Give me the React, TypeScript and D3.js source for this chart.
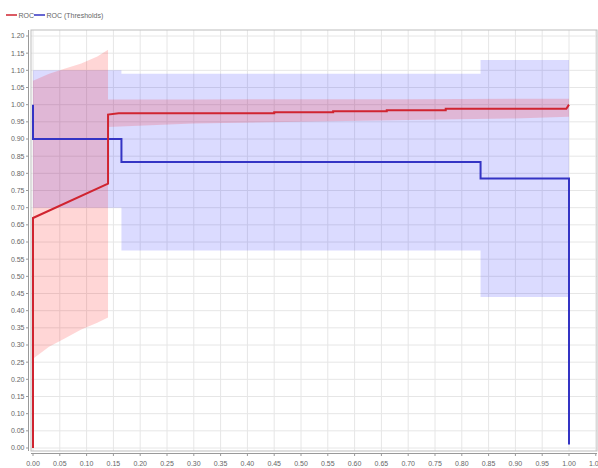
import React from "react";
import * as d3 from "d3";

// ROC curve (red)
const rocX = [0, 0, 0.14, 0.14, 0.16, 0.45, 0.45, 0.56, 0.56, 0.66, 0.66, 0.77, 0.77, 0.995, 1.0];
const rocY = [0, 0.67, 0.77, 0.971, 0.975, 0.975, 0.978, 0.978, 0.981, 0.981, 0.984, 0.984, 0.988, 0.988, 1.0];

// ROC deviation band
const rocBandX = [0, 0.03, 0.06, 0.09, 0.12, 0.14, 0.14, 0.3, 0.5, 0.7, 0.9, 1.0];
const rocBandUpper = [1.07, 1.09, 1.105, 1.12, 1.14, 1.16, 1.015, 1.015, 1.016, 1.016, 1.017, 1.017];
const rocBandLower = [0.26, 0.295, 0.32, 0.345, 0.365, 0.38, 0.935, 0.945, 0.95, 0.955, 0.96, 0.965];

// ROC (Thresholds) curve (blue)
const thrX = [0, 0, 0.165, 0.165, 0.835, 0.835, 1.0, 1.0];
const thrY = [1.0, 0.9, 0.9, 0.833, 0.833, 0.785, 0.785, 0.01];

// Thresholds band
const thrBandX = [0, 0.165, 0.165, 0.835, 0.835, 1.0];
const thrBandUpper = [1.1, 1.1, 1.09, 1.09, 1.13, 1.13];
const thrBandLower = [0.7, 0.7, 0.575, 0.575, 0.44, 0.44];

const xTicks = d3.range(0, 21 + 1).map((i) => i * 0.05);
const yTicks = d3.range(0, 24 + 1).map((i) => i * 0.05);

const legendLabels = ["ROC", "ROC (Thresholds)"];
const RED = "rgb(208,36,48)";
const BLUE = "rgb(52,52,196)";

export default function App() {
  const W = 598;
  const H = 468;
  const x = d3.scaleLinear().domain([0, 1]).range([33, 569]);
  const y = d3.scaleLinear().domain([0, 1.2]).range([448, 36]);
  const plotL = 31;
  const plotT = 30;
  const plotR = 597;
  const plotB = 451;
  const font = "'Liberation Sans', Arial, sans-serif";

  const line = d3
    .line<[number, number]>()
    .x((d) => x(d[0]))
    .y((d) => y(d[1]));
  const area = d3
    .area<[number, number, number]>()
    .x((d) => x(d[0]))
    .y0((d) => y(d[2]))
    .y1((d) => y(d[1]));

  const rocPts = rocX.map((v, i) => [v, rocY[i]] as [number, number]);
  const thrPts = thrX.map((v, i) => [v, thrY[i]] as [number, number]);
  const rocBand = rocBandX.map((v, i) => [v, rocBandUpper[i], rocBandLower[i]] as [number, number, number]);
  const thrBand = thrBandX.map((v, i) => [v, thrBandUpper[i], thrBandLower[i]] as [number, number, number]);

  return (
    <svg
      width={W}
      height={H}
      style={{ position: "absolute", left: 0, top: 0, background: "#fff" }}
      fontFamily={font}
    >
      <rect x={0} y={0} width={W} height={H} fill="#fff" />
      {/* legend */}
      <g>
        <line x1={6} x2={17} y1={15} y2={15} stroke={RED} strokeWidth={2} opacity={0.75} />
        <text x={18.5} y={17.5} fontSize={7} fill="#666">{legendLabels[0]}</text>
        <line x1={34} x2={45} y1={15} y2={15} stroke={BLUE} strokeWidth={2} opacity={0.75} />
        <text x={46.5} y={17.5} fontSize={7} fill="#666">{legendLabels[1]}</text>
      </g>
      {/* grid */}
      <g>
        {xTicks.map((t, i) => (
          <line key={"gx" + i} x1={x(t)} x2={x(t)} y1={plotT} y2={plotB} stroke="#e6e6e6" strokeWidth={1} />
        ))}
        {yTicks.map((t, i) => (
          <line key={"gy" + i} x1={plotL} x2={plotR} y1={y(t)} y2={y(t)} stroke="#e6e6e6" strokeWidth={1} />
        ))}
      </g>
      {/* bands */}
      <path d={area(thrBand) || ""} fill="rgb(0,0,255)" fillOpacity={0.14} />
      <path d={area(rocBand) || ""} fill="rgb(255,0,0)" fillOpacity={0.16} />
      {/* lines */}
      <path d={line(thrPts) || ""} fill="none" stroke={BLUE} strokeWidth={2} />
      <path d={line(rocPts) || ""} fill="none" stroke={RED} strokeWidth={2} />
      {/* plot frame */}
      <rect x={plotL} y={plotT} width={plotR - plotL} height={plotB - plotT} fill="none" stroke="#bdbdbd" strokeWidth={1} />
      {/* y axis */}
      <line x1={28.5} x2={28.5} y1={plotT} y2={plotB} stroke="#999" strokeWidth={1} />
      {yTicks.map((t, i) => (
        <g key={"yt" + i}>
          <line x1={26} x2={28.5} y1={y(t)} y2={y(t)} stroke="#999" />
          <text x={24.5} y={y(t)} dy="0.35em" textAnchor="end" fontSize={7} fill="#666">
            {t.toFixed(2)}
          </text>
        </g>
      ))}
      {/* x axis */}
      <line x1={plotL} x2={plotR} y1={453.5} y2={453.5} stroke="#999" strokeWidth={1} />
      {xTicks.map((t, i) => (
        <g key={"xt" + i}>
          <line x1={x(t)} x2={x(t)} y1={453.5} y2={456} stroke="#999" />
          <text x={x(t)} y={465.5} textAnchor="middle" fontSize={7} fill="#666">
            {t.toFixed(2)}
          </text>
        </g>
      ))}
    </svg>
  );
}
